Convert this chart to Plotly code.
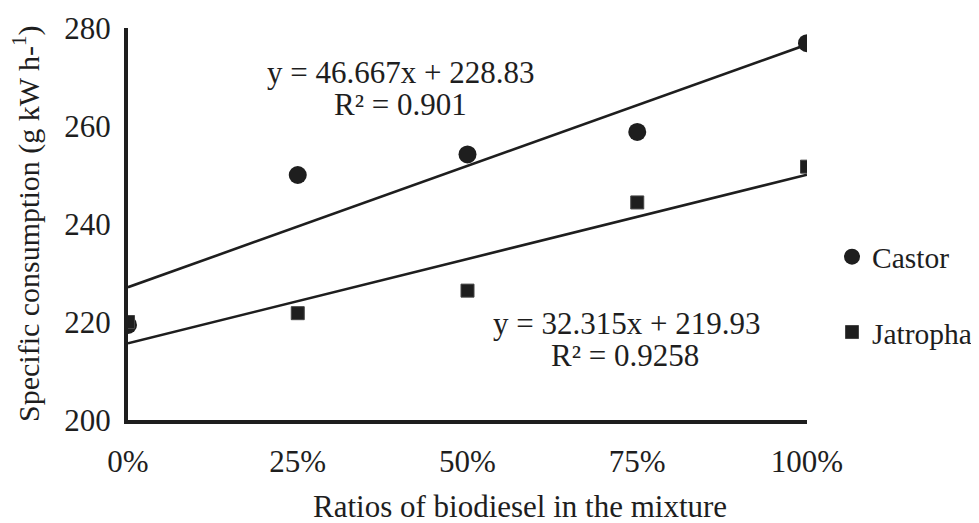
import numpy as np
import plotly.graph_objects as go

ratios = [0.0, 0.25, 0.5, 0.75, 1.0]
tick_labels = ["0%", "25%", "50%", "75%", "100%"]
castor = [219.4, 250.0, 254.2, 258.8, 276.9]
jatropha = [220.0, 221.8, 226.4, 244.4, 251.7]
castor_eq = ["y = 46.667x + 228.83", "R² = 0.901"]
jatropha_eq = ["y = 32.315x + 219.93", "R² = 0.9258"]

FONT = "Liberation Serif"
INK = "#1e1e1e"
FS = 31

# page is drawn with an 8px body offset; layout values below are in figure px
OFF = 8
W, H = 1000, 523
ML, MT = 128 - OFF, 28 - OFF
PR, PB = 807 - OFF, 420 - OFF
MR, MB = W - PR, H - PB
PW, PH = PR - ML, PB - MT


def px(xp, yp):
    return (xp - OFF - ML) / PW, 1 - (yp - OFF - MT) / PH


fig = go.Figure()

for vals in (castor, jatropha):
    k, b = np.polyfit(ratios, vals, 1)
    xs = [ratios[0], ratios[-1]]
    fig.add_trace(go.Scatter(x=xs, y=[b + k * x for x in xs], mode="lines",
                             line=dict(color=INK, width=2.6), showlegend=False,
                             hoverinfo="skip"))

fig.add_trace(go.Scatter(x=ratios, y=castor, mode="markers", name="Castor",
                         legendgroup="a",
                         marker=dict(symbol="circle", size=18, color=INK,
                                     line=dict(width=0))))
fig.add_trace(go.Scatter(x=ratios, y=jatropha, mode="markers", name="Jatropha",
                         legendgroup="b",
                         marker=dict(symbol="square", size=13, color=INK,
                                     line=dict(width=1, color="#444"))))


def label(text, xp, yp, angle=0, size=FS):
    x, y = px(xp, yp)
    fig.add_annotation(x=x, y=y, xref="paper", yref="paper", text=text,
                       showarrow=False, xanchor="center", yanchor="middle",
                       textangle=angle,
                       font=dict(family=FONT, size=size, color=INK))


label(castor_eq[0], 400, 72)
label(castor_eq[1], 400, 104)
label(jatropha_eq[0], 626, 323)
label(jatropha_eq[1], 625, 355)
label("Ratios of biodiesel in the mixture", 520, 506)
label("Specific consumption (g kW h-<sup>1</sup>)", 26, 224, angle=-90, size=30)

lx, ly = px(832, 294.5)
fig.update_layout(
    width=W, height=H,
    margin=dict(l=ML, r=MR, t=MT, b=MB),
    paper_bgcolor="white", plot_bgcolor="white",
    font=dict(family=FONT, size=FS, color=INK),
    showlegend=True,
    legend=dict(x=lx, y=ly, xanchor="left", yanchor="middle",
                traceorder="grouped", tracegroupgap=34,
                font=dict(family=FONT, size=29.5, color=INK),
                bgcolor="rgba(0,0,0,0)"),
    xaxis=dict(range=[0, 1], tickvals=ratios, ticktext=tick_labels,
               showgrid=False, zeroline=False, showline=True, automargin=False,
               linecolor=INK, linewidth=4, ticks="", ticklabelstandoff=11,
               tickfont=dict(family=FONT, size=FS, color=INK)),
    yaxis=dict(range=[200, 280], tickvals=[200, 220, 240, 260, 280],
               showgrid=False, zeroline=False, showline=True, automargin=False,
               linecolor=INK, linewidth=4, ticks="", ticklabelstandoff=7,
               tickfont=dict(family=FONT, size=FS, color=INK)),
)

fig.write_html("out.html")
